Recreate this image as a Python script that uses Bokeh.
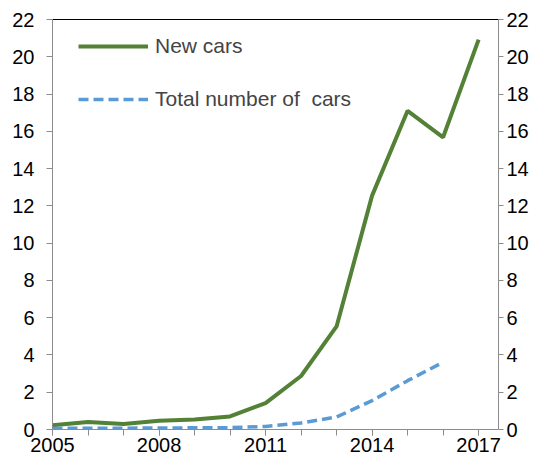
from bokeh.plotting import figure
from bokeh.models import LinearAxis, FixedTicker, Legend, LegendItem, Range1d
from bokeh.embed import file_html
from bokeh.resources import INLINE

years_new = [2005, 2006, 2007, 2008, 2009, 2010, 2011, 2012, 2013, 2014, 2015, 2016, 2017]
new_cars = [0.23, 0.4, 0.3, 0.47, 0.54, 0.7, 1.42, 2.87, 5.53, 12.55, 17.1, 15.68, 20.92]
years_total = [2005, 2006, 2007, 2008, 2009, 2010, 2011, 2012, 2013, 2014, 2015, 2016]
total_cars = [0.06, 0.07, 0.07, 0.08, 0.09, 0.1, 0.16, 0.35, 0.67, 1.55, 2.62, 3.61]
x_tick_labels = [2005, 2008, 2011, 2014, 2017]
x_minor = list(range(2005, 2018))
y_ticks = list(range(0, 23, 2))

FONT = "Liberation Sans"
AXIS_GRAY = "#8c8c8c"

p = figure(width=531, height=454, output_backend="svg", toolbar_location=None,
           x_range=Range1d(2005, 2017.56), y_range=Range1d(0, 22),
           min_border_left=52, min_border_right=31, min_border_top=19, min_border_bottom=0)
p.outline_line_color = None
p.grid.grid_line_color = None
p.background_fill_color = "white"
p.border_fill_color = "white"

g = p.line(years_new, new_cars, line_color="#538135", line_width=4)
b = p.line(years_total, total_cars, line_color="#5B9BD5", line_width=3.5, line_dash="10 5")

# x axis
xa = p.xaxis[0]
xa.ticker = FixedTicker(ticks=x_tick_labels, minor_ticks=x_minor)
xa.axis_line_color = AXIS_GRAY
xa.major_tick_line_color = AXIS_GRAY
xa.minor_tick_line_color = AXIS_GRAY
xa.major_tick_out = 6
xa.major_tick_in = 0
xa.minor_tick_out = 6
xa.minor_tick_in = 0
xa.major_label_standoff = 2
xa.major_label_text_font = FONT
xa.major_label_text_font_size = "20px"
xa.major_label_text_color = "black"

def style_y(ax, tick_out, standoff):
    ax.ticker = FixedTicker(ticks=y_ticks)
    ax.axis_line_color = AXIS_GRAY
    ax.major_tick_line_color = AXIS_GRAY
    ax.minor_tick_line_color = None
    ax.major_tick_out = tick_out
    ax.major_tick_in = 0
    ax.major_label_standoff = standoff
    ax.major_label_text_font = FONT
    ax.major_label_text_font_size = "20px"
    ax.major_label_text_color = "black"

style_y(p.yaxis[0], 6, 12)
ry = LinearAxis()
style_y(ry, 5, 3)
p.add_layout(ry, "right")

top = LinearAxis(ticker=FixedTicker(ticks=[]))
top.axis_line_color = "black"
top.major_tick_line_color = None
top.minor_tick_line_color = None
top.major_label_text_font_size = "0px"
top.major_label_standoff = 0
top.major_tick_out = 0
p.add_layout(top, "above")

legend = Legend(items=[LegendItem(label="New cars", renderers=[g]),
                       LegendItem(label="Total number of  cars", renderers=[b])],
                location=(26, 318), padding=0, margin=0, spacing=29,
                glyph_width=70, glyph_height=20, label_height=20, label_standoff=7,
                label_text_font=FONT, label_text_font_size="21px",
                border_line_color=None, background_fill_alpha=0)
p.add_layout(legend, "center")

open("out.html", "w").write(file_html(p, INLINE))
